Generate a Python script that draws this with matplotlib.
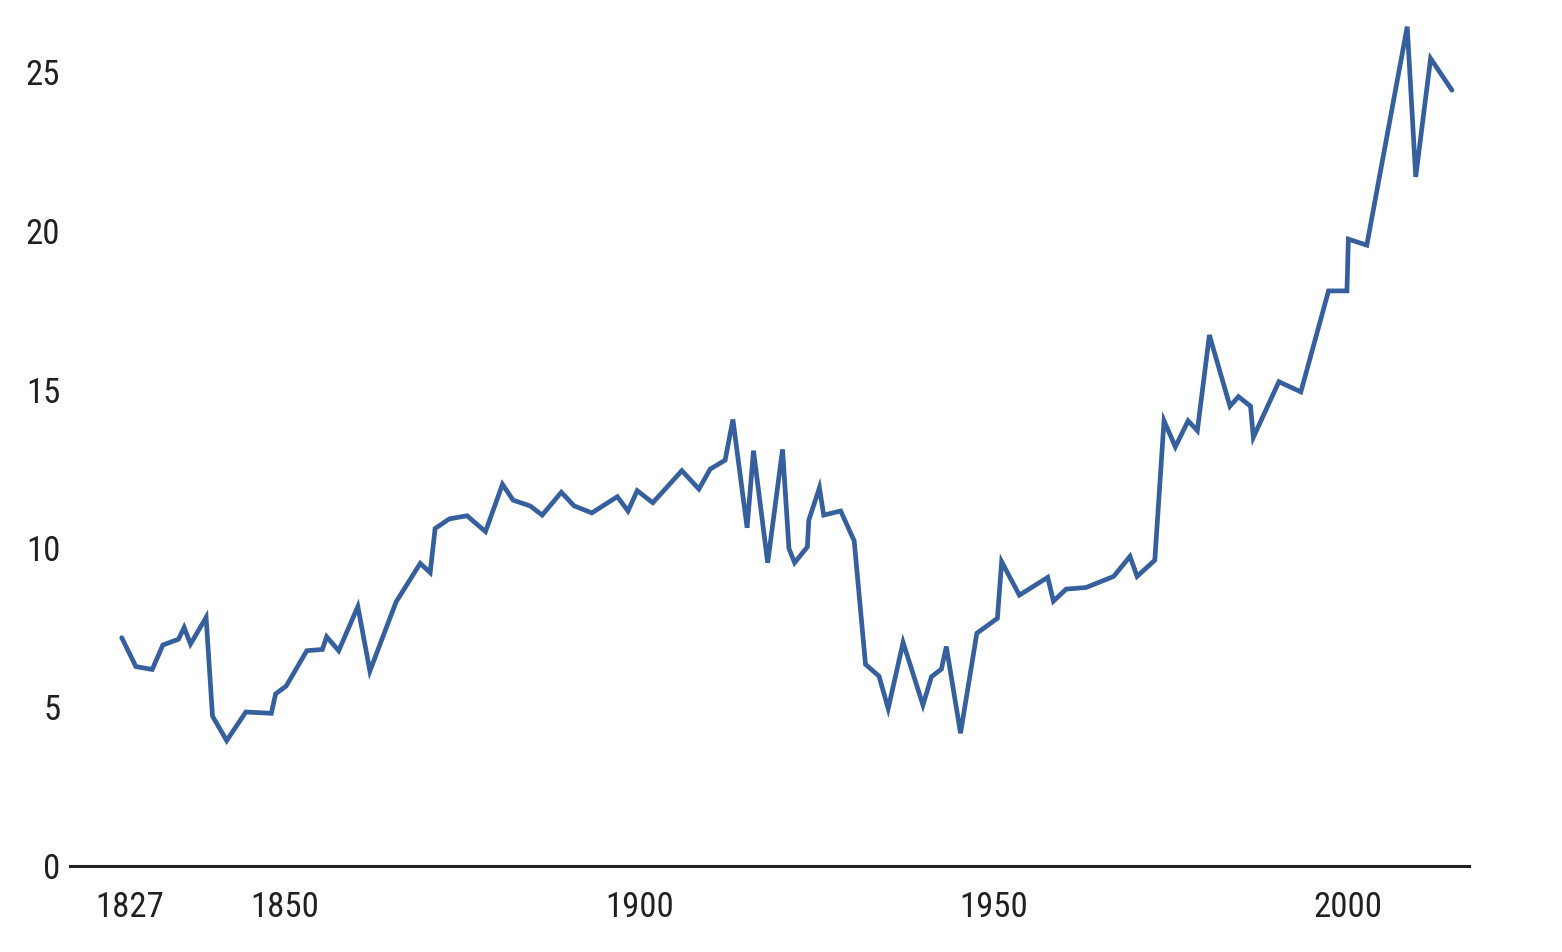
import matplotlib
matplotlib.use("Agg")
import matplotlib.pyplot as plt
import matplotlib.transforms as mtransforms
from matplotlib import font_manager as fm

# --- data ---
years = [1827, 1829, 1831.3, 1832.8, 1835, 1835.8, 1836.7, 1838.9, 1839.8, 1841.8,
         1844.5, 1848.1, 1848.7, 1850.2, 1853.1, 1855.3, 1855.9, 1857.6, 1860.3, 1862,
         1865.7, 1869.1, 1870.5, 1871.2, 1873.2, 1875.7, 1878.3, 1880.7, 1882.2, 1884.6,
         1886.3, 1889, 1890.8, 1893.3, 1896.9, 1898.4, 1899.7, 1901.9, 1906, 1908.4,
         1910, 1912.1, 1913.2, 1915.2, 1916.1, 1918.1, 1920.2, 1921.1, 1921.9, 1923.7,
         1923.9, 1925.4, 1926, 1928.4, 1930.3, 1931.9, 1933.8, 1935.1, 1937.2, 1940,
         1941.2, 1942.6, 1943.3, 1945.3, 1947.6, 1950.5, 1951.1, 1953.6, 1957.6, 1958.4,
         1960.2, 1963, 1966.9, 1969.2, 1970.2, 1972.7, 1974, 1975.6, 1977.4, 1978.7,
         1980.4, 1983.3, 1984.5, 1986.2, 1986.6, 1990.2, 1993.3, 1997.2, 1999.8, 2000,
         2002.6, 2008.3, 2009.5, 2011.6, 2014.6]
values = [7.19, 6.28, 6.19, 6.96, 7.14, 7.51, 6.99, 7.83, 4.72, 3.95,
          4.85, 4.81, 5.42, 5.67, 6.78, 6.82, 7.22, 6.78, 8.17, 6.14,
          8.32, 9.53, 9.24, 10.63, 10.93, 11.03, 10.53, 12.02, 11.52, 11.34,
          11.05, 11.77, 11.34, 11.12, 11.63, 11.18, 11.82, 11.44, 12.45, 11.87,
          12.5, 12.78, 14.06, 10.65, 13.08, 9.55, 13.12, 10.0, 9.55, 10.05,
          10.89, 11.91, 11.05, 11.18, 10.24, 6.35, 5.98, 4.96, 7.04, 5.07,
          5.96, 6.2, 6.91, 4.18, 7.33, 7.8, 9.58, 8.53, 9.09, 8.34,
          8.72, 8.77, 9.12, 9.75, 9.12, 9.63, 14.02, 13.2, 14.02, 13.71,
          16.72, 14.48, 14.78, 14.48, 13.5, 15.25, 14.93, 18.11, 18.11, 19.74,
          19.55, 26.43, 21.7, 25.43, 24.43]

xticks = [1827, 1850, 1900, 1950, 2000]
yticks = [0, 5, 10, 15, 20, 25]

# pick a narrow font if one is installed
names = {f.name for f in fm.fontManager.ttflist}
family = 'DejaVu Sans'
for cand in ['Roboto Condensed', 'Liberation Sans Narrow', 'DejaVu Sans Condensed', 'Open Sans Condensed']:
    if cand in names:
        family = cand
        break
plt.rcParams['font.family'] = [family, 'DejaVu Sans']

text_color = '#231f20'
line_color = '#36609d'

fig = plt.figure(figsize=(15.62, 9.52), dpi=100)
ax = fig.add_axes([0.0448, 0.0903, 0.8956, 0.9007])

ax.plot(years, values, color=line_color, lw=3.4, solid_joinstyle='miter', solid_capstyle='round')

ax.set_xlim(1819.7, 2017.0)
ax.set_ylim(0, 27)
ax.set_xticks(xticks)
ax.set_yticks(yticks)

for side in ['top', 'right', 'left']:
    ax.spines[side].set_visible(False)
ax.spines['bottom'].set_color(text_color)
ax.spines['bottom'].set_linewidth(2.2)

ax.tick_params(axis='x', length=0, pad=18, labelsize=25, labelcolor=text_color)
ax.tick_params(axis='y', length=0, pad=7, labelsize=25, labelcolor=text_color)

# the first year label sits a little right of its tick in the original
first = ax.get_xticklabels()[0]
first.set_transform(first.get_transform() + mtransforms.ScaledTranslation(8 / 100, 0, fig.dpi_scale_trans))

fig.savefig('out.png', dpi=100)
plt.close(fig)
